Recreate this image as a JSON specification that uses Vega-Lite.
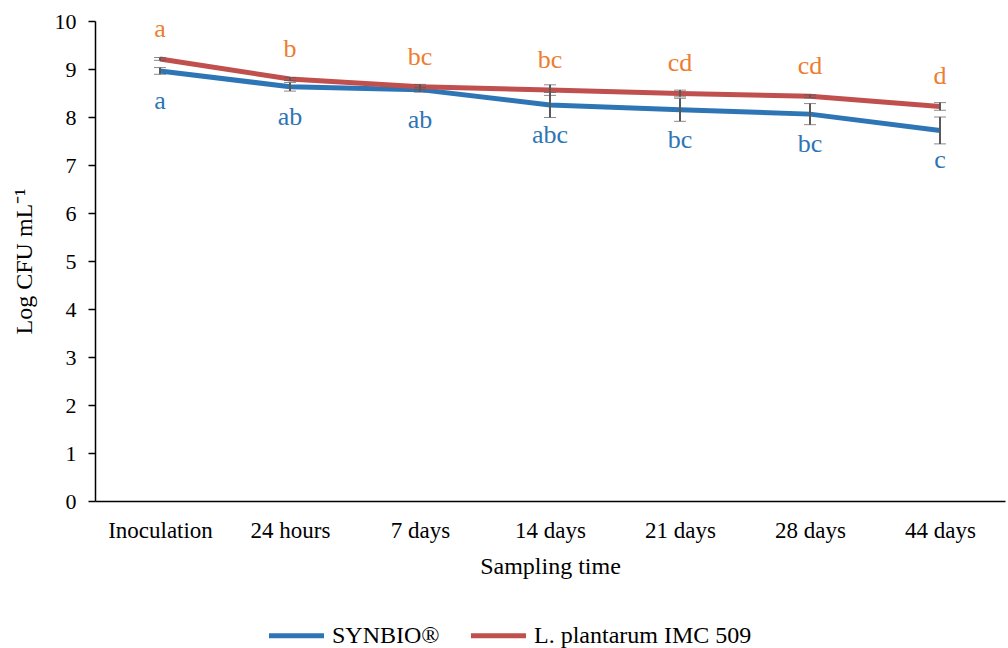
{
  "$schema": "https://vega.github.io/schema/vega-lite/v6.json",
  "width": 910,
  "height": 480,
  "autosize": "none",
  "padding": {"left": 95, "top": 21, "right": 3, "bottom": 147},
  "background": "white",
  "config": {
    "view": {"stroke": null},
    "font": "Liberation Serif",
    "axis": {"grid": false, "domainColor": "black", "tickColor": "black", "labelColor": "black", "titleColor": "black", "labelFont": "Liberation Serif", "titleFont": "Liberation Serif", "titleFontWeight": "normal", "domainWidth": 1.5, "tickWidth": 1.5}
  },
  "data": {
    "values": [
      {"time": "Inoculation", "series": "SYNBIO®", "value": 8.96, "err": 0.07, "label": "a"},
      {"time": "24 hours", "series": "SYNBIO®", "value": 8.63, "err": 0.09, "label": "ab"},
      {"time": "7 days", "series": "SYNBIO®", "value": 8.57, "err": 0.05, "label": "ab"},
      {"time": "14 days", "series": "SYNBIO®", "value": 8.25, "err": 0.26, "label": "abc"},
      {"time": "21 days", "series": "SYNBIO®", "value": 8.15, "err": 0.24, "label": "bc"},
      {"time": "28 days", "series": "SYNBIO®", "value": 8.06, "err": 0.22, "label": "bc"},
      {"time": "44 days", "series": "SYNBIO®", "value": 7.72, "err": 0.28, "label": "c"},
      {"time": "Inoculation", "series": "L. plantarum IMC 509", "value": 9.21, "err": 0.03, "label": "a"},
      {"time": "24 hours", "series": "L. plantarum IMC 509", "value": 8.79, "err": 0.03, "label": "b"},
      {"time": "7 days", "series": "L. plantarum IMC 509", "value": 8.63, "err": 0.05, "label": "bc"},
      {"time": "14 days", "series": "L. plantarum IMC 509", "value": 8.56, "err": 0.11, "label": "bc"},
      {"time": "21 days", "series": "L. plantarum IMC 509", "value": 8.49, "err": 0.07, "label": "cd"},
      {"time": "28 days", "series": "L. plantarum IMC 509", "value": 8.43, "err": 0.03, "label": "cd"},
      {"time": "44 days", "series": "L. plantarum IMC 509", "value": 8.22, "err": 0.08, "label": "d"}
    ]
  },
  "encoding": {
    "x": {
      "field": "time", "type": "nominal",
      "sort": ["Inoculation", "24 hours", "7 days", "14 days", "21 days", "28 days", "44 days"],
      "scale": {"type": "point", "padding": 0.5},
      "axis": {"title": "Sampling time", "labelAngle": 0, "labelFontSize": 23, "titleFontSize": 24, "ticks": false, "labelPadding": 18, "titlePadding": 12}
    }
  },
  "layer": [
    {
      "mark": {"type": "line", "strokeWidth": 5},
      "encoding": {
        "y": {
          "field": "value", "type": "quantitative", "title": "Log CFU mL⁻¹",
          "scale": {"domain": [0, 10], "nice": false},
          "axis": {"title": "Log CFU mL⁻¹", "values": [0,1,2,3,4,5,6,7,8,9,10], "labelFontSize": 22, "titleFontSize": 24, "tickSize": 7, "labelPadding": 12, "titlePadding": 18}
        },
        "color": {
          "field": "series", "type": "nominal",
          "scale": {"domain": ["SYNBIO®", "L. plantarum IMC 509"], "range": ["#2E75B6", "#C0504D"]},
          "legend": {
            "title": null, "orient": "none", "direction": "horizontal", "legendX": 185, "legendY": 598,
            "symbolType": "M-2,0L2,0", "symbolSize": 756, "symbolStrokeWidth": 5,
            "labelFontSize": 24, "labelFont": "Liberation Serif", "labelColor": "black", "labelOffset": 19, "columnPadding": 21, "labelLimit": 400
          }
        },
        "order": {"field": "series", "sort": "descending"}
      }
    },
    {
      "mark": {"type": "errorbar", "color": "#595959", "ticks": {"size": 12, "color": "#595959", "strokeWidth": 2}, "rule": {"strokeWidth": 2}},
      "encoding": {
        "y": {"field": "value", "type": "quantitative", "title": "Log CFU mL⁻¹"},
        "yError": {"field": "err"},
        "detail": {"field": "series"}
      }
    },
    {
      "transform": [{"filter": "datum.series === 'SYNBIO®'"}],
      "mark": {"type": "text", "dy": 30, "fontSize": 26, "color": "#2E75B6", "font": "Liberation Serif"},
      "encoding": {
        "y": {"field": "value", "type": "quantitative", "title": "Log CFU mL⁻¹"},
        "text": {"field": "label"}
      }
    },
    {
      "transform": [{"filter": "datum.series !== 'SYNBIO®'"}],
      "mark": {"type": "text", "dy": -30, "fontSize": 26, "color": "#ED7D31", "font": "Liberation Serif"},
      "encoding": {
        "y": {"field": "value", "type": "quantitative", "title": "Log CFU mL⁻¹"},
        "text": {"field": "label"}
      }
    }
  ]
}
